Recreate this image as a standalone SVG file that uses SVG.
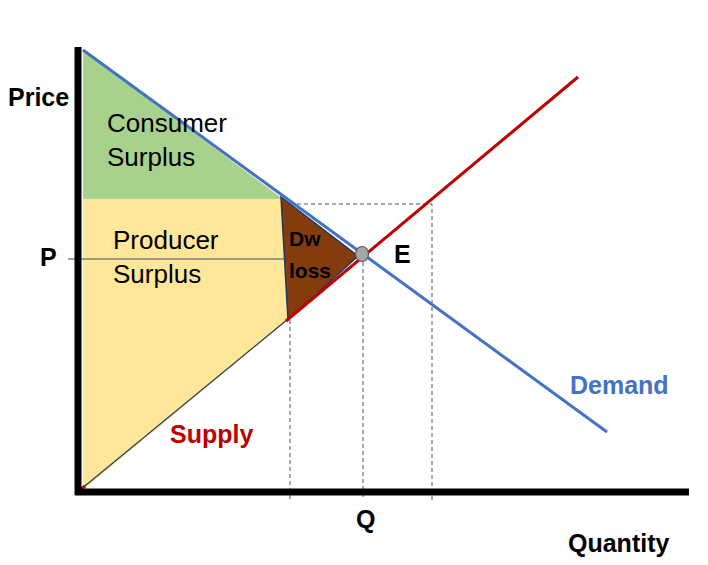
<svg xmlns="http://www.w3.org/2000/svg" width="708" height="565" viewBox="0 0 708 565">
<style>
text{font-family:"Liberation Sans",Arial,sans-serif}
.b{font-weight:bold;font-size:25px;fill:#000}
.n{font-size:26px;fill:#000}
.d{font-size:21px;fill:#000;font-weight:bold}
.dash{stroke:#555;stroke-width:1;stroke-dasharray:4 3;fill:none}
</style>
<rect width="708" height="565" fill="#fff"/>
<g id="consumer-surplus"><polygon points="83,50 83,199 283,199" fill="#a9d18e"/></g>
<g id="producer-surplus"><polygon points="83,199 282,199 288,320 83,490" fill="#ffe699"/></g>
<g id="deadweight-loss"><polygon points="281,197 358,256 288,320" fill="#843c0c" stroke="#1f3864" stroke-width="1.5"/></g>
<g id="connectors">
<line x1="68" y1="259" x2="284" y2="259" stroke="#808080" stroke-width="1.5"/>
<polyline class="dash" points="290,204 432,204 432,500"/>
<line class="dash" x1="290" y1="320" x2="290" y2="500"/>
<line class="dash" x1="363" y1="262" x2="363" y2="500"/>
<line x1="80" y1="490" x2="288" y2="319" stroke="#1f3864" stroke-width="1.2"/>
<line x1="286" y1="321" x2="578" y2="77" stroke="#c00000" stroke-width="3"/>
<line x1="80" y1="490" x2="85" y2="486" stroke="#c00000" stroke-width="3"/>
<line x1="83" y1="50" x2="607" y2="432" stroke="#4472c4" stroke-width="3"/>
<line x1="78" y1="47" x2="78" y2="495" stroke="#000" stroke-width="7"/>
<line x1="75" y1="492" x2="689" y2="492" stroke="#000" stroke-width="7"/>
</g>
<g id="equilibrium"><ellipse cx="362" cy="254" rx="6.5" ry="7.5" fill="#a6a6a6" stroke="#595959" stroke-width="1.2"/></g>
<g id="labels">
<text class="b" x="8" y="106">Price</text>
<text class="b" x="40" y="266">P</text>
<text class="b" x="394" y="263">E</text>
<text class="b" x="356" y="528">Q</text>
<text class="b" x="568" y="552">Quantity</text>
<text class="b" x="570" y="394" style="fill:#4472c4">Demand</text>
<text class="b" x="170" y="443" style="fill:#c00000">Supply</text>
<text class="n" x="107" y="132">Consumer</text>
<text class="n" x="107" y="166">Surplus</text>
<text class="n" x="113" y="249">Producer</text>
<text class="n" x="113" y="283">Surplus</text>
<text class="d" x="289" y="246">Dw</text>
<text class="d" x="289" y="278">loss</text>
</g>
</svg>
